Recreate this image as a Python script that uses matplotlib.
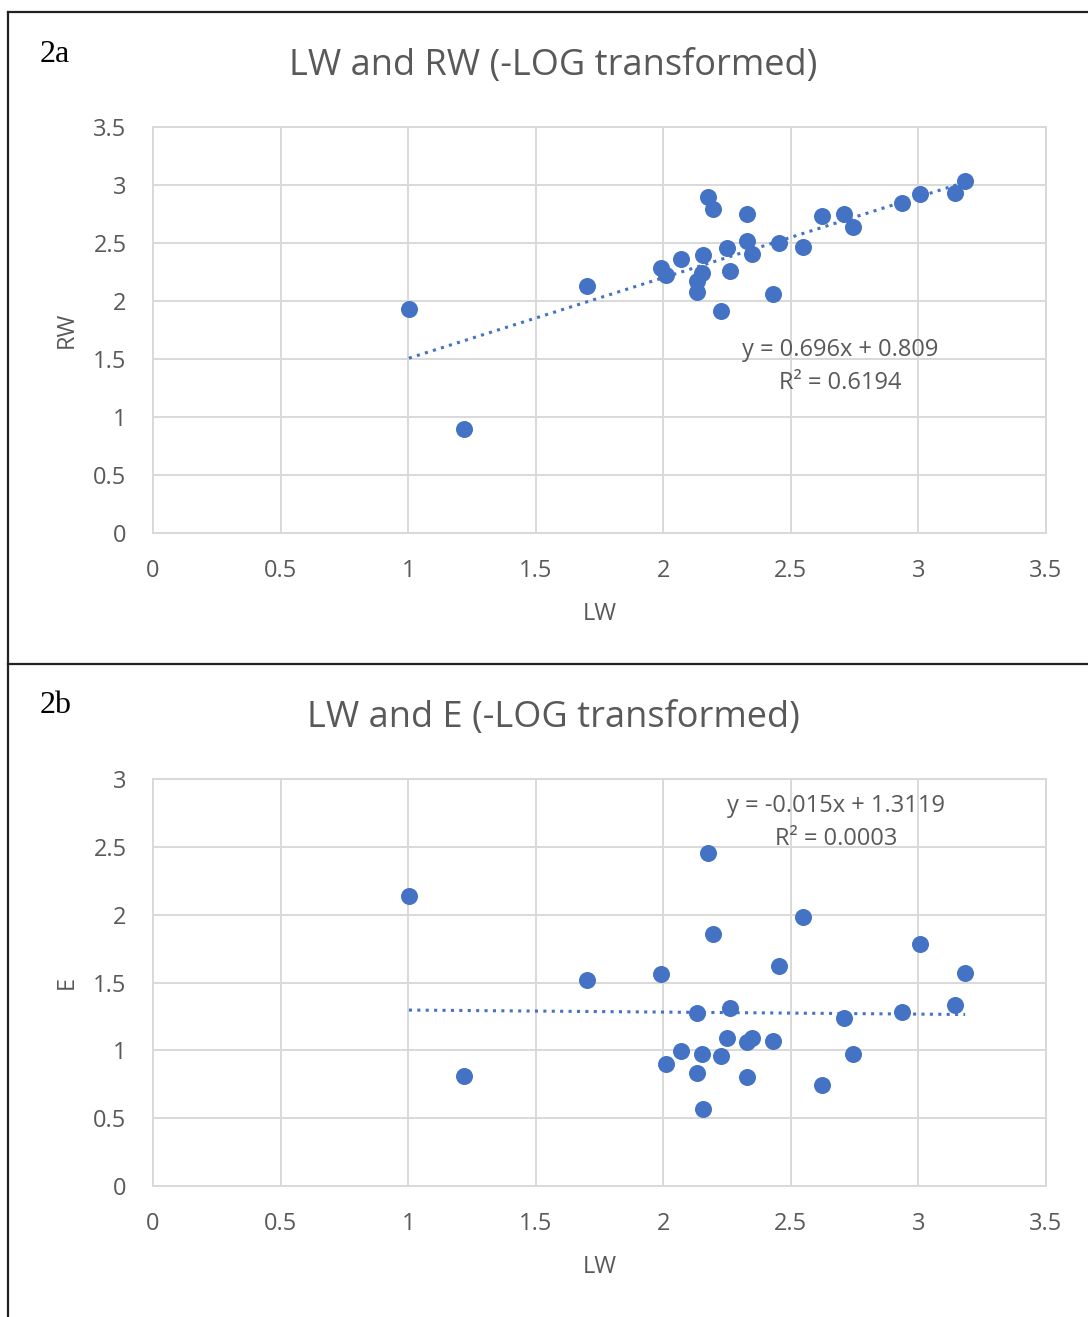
import numpy as np
import matplotlib
matplotlib.use("Agg")
import matplotlib.pyplot as plt
from matplotlib.lines import Line2D

plt.rcParams['font.family'] = ['Open Sans', 'DejaVu Sans']

# LW (-log), one value per sample, shared by both panels
LW = [1.003, 1.217, 1.700, 1.993, 2.011, 2.068, 2.131, 2.134, 2.151, 2.155,
      2.174, 2.194, 2.226, 2.251, 2.261, 2.327, 2.330, 2.348, 2.431, 2.455,
      2.549, 2.624, 2.710, 2.745, 2.937, 3.006, 3.142, 3.183]
RW = [1.931, 0.897, 2.129, 2.282, 2.224, 2.359, 2.080, 2.175, 2.244, 2.397,
      2.899, 2.793, 1.916, 2.459, 2.259, 2.517, 2.750, 2.405, 2.058, 2.497,
      2.468, 2.733, 2.750, 2.641, 2.842, 2.922, 2.928, 3.034]
E = [2.137, 0.811, 1.518, 1.560, 0.897, 0.995, 1.273, 0.831, 0.971, 0.565,
     2.456, 1.857, 0.960, 1.088, 1.314, 1.063, 0.801, 1.088, 1.069, 1.623,
     1.985, 0.744, 1.240, 0.971, 1.284, 1.783, 1.334, 1.572]

# trendline coefficients as printed on the chart
fit_rw = (0.696, 0.809)
fit_e = (-0.015, 1.3119)
eq_rw = ["y = 0.696x + 0.809", "R\u00b2 = 0.6194"]
eq_e = ["y = -0.015x + 1.3119", "R\u00b2 = 0.0003"]

BLUE = "#4472C4"
GREY_TXT = "#595959"
GRID = "#d9d9d9"

W, H = 1088, 1317
fig = plt.figure(figsize=(W / 100, H / 100), dpi=100)


def px(x0, y0, x1, y1):
    # pixel box -> figure fraction rect
    return [x0 / W, 1 - y1 / H, (x1 - x0) / W, (y1 - y0) / H]


def panel(rect, y, ymax, fit, eq, eq_xy, ylabel):
    ax = fig.add_axes(rect)
    ax.scatter(LW, y, s=150, color=BLUE, zorder=3, linewidths=0)
    xs = np.array([min(LW), max(LW)])
    ax.plot(xs, fit[0] * xs + fit[1], color=BLUE, lw=2.2,
            linestyle=(0, (1, 1.75)), zorder=2)
    ax.set_xlim(0, 3.5)
    ax.set_ylim(0, ymax)
    ax.set_xticks(np.arange(0, 3.51, 0.5))
    ax.set_yticks(np.arange(0, ymax + 0.01, 0.5))
    ax.set_xticklabels(["0", "0.5", "1", "1.5", "2", "2.5", "3", "3.5"])
    ax.set_yticklabels([("%g" % v) for v in np.arange(0, ymax + 0.01, 0.5)])
    ax.grid(True, color=GRID, lw=1.4)
    ax.set_axisbelow(True)
    for s in ax.spines.values():
        s.set_color(GRID)
        s.set_linewidth(1.4)
    ax.tick_params(length=0, labelsize=17, labelcolor=GREY_TXT)
    ax.tick_params(axis='x', pad=19)
    ax.tick_params(axis='y', pad=19)
    ax.set_xlabel("LW", fontsize=17, color=GREY_TXT, va='center')
    ax.xaxis.set_label_coords(0.5006, -0.2)
    ax.set_ylabel(ylabel, fontsize=17, color=GREY_TXT, va='center')
    ax.yaxis.set_label_coords(-0.0963, 0.5)
    ax.text(eq_xy[0], eq_xy[1], eq[0], fontsize=17, color=GREY_TXT,
            ha='center', va='center')
    ax.text(eq_xy[0], eq_xy[2], eq[1], fontsize=17, color=GREY_TXT,
            ha='center', va='center')
    return ax


panel(px(153, 127, 1046, 533), RW, 3.5, fit_rw, eq_rw, (2.693, 1.58, 1.29), "RW")
panel(px(153, 779, 1046, 1186), E, 3.0, fit_e, eq_e, (2.677, 2.80, 2.56), "E")

fig.text(553 / W, 1 - 66 / H, "LW and RW (-LOG transformed)", fontsize=26,
         color=GREY_TXT, ha='center', va='center')
fig.text(553 / W, 1 - 718 / H, "LW and E (-LOG transformed)", fontsize=26,
         color=GREY_TXT, ha='center', va='center')
fig.text(40 / W, 1 - 55 / H, "2a", fontsize=23, family='Liberation Serif',
         color='black', ha='left', va='center')
fig.text(40 / W, 1 - 706 / H, "2b", fontsize=23, family='Liberation Serif',
         color='black', ha='left', va='center')

# panel frames
fig.add_artist(Line2D([8 / W, 8 / W], [0, 1 - 12 / H], color='#222222', lw=1.6))
fig.add_artist(Line2D([8 / W, 1], [1 - 12 / H, 1 - 12 / H], color='#222222', lw=1.6))
fig.add_artist(Line2D([8 / W, 1], [1 - 664 / H, 1 - 664 / H], color='#222222', lw=1.6))

fig.savefig("out.png", dpi=100)
